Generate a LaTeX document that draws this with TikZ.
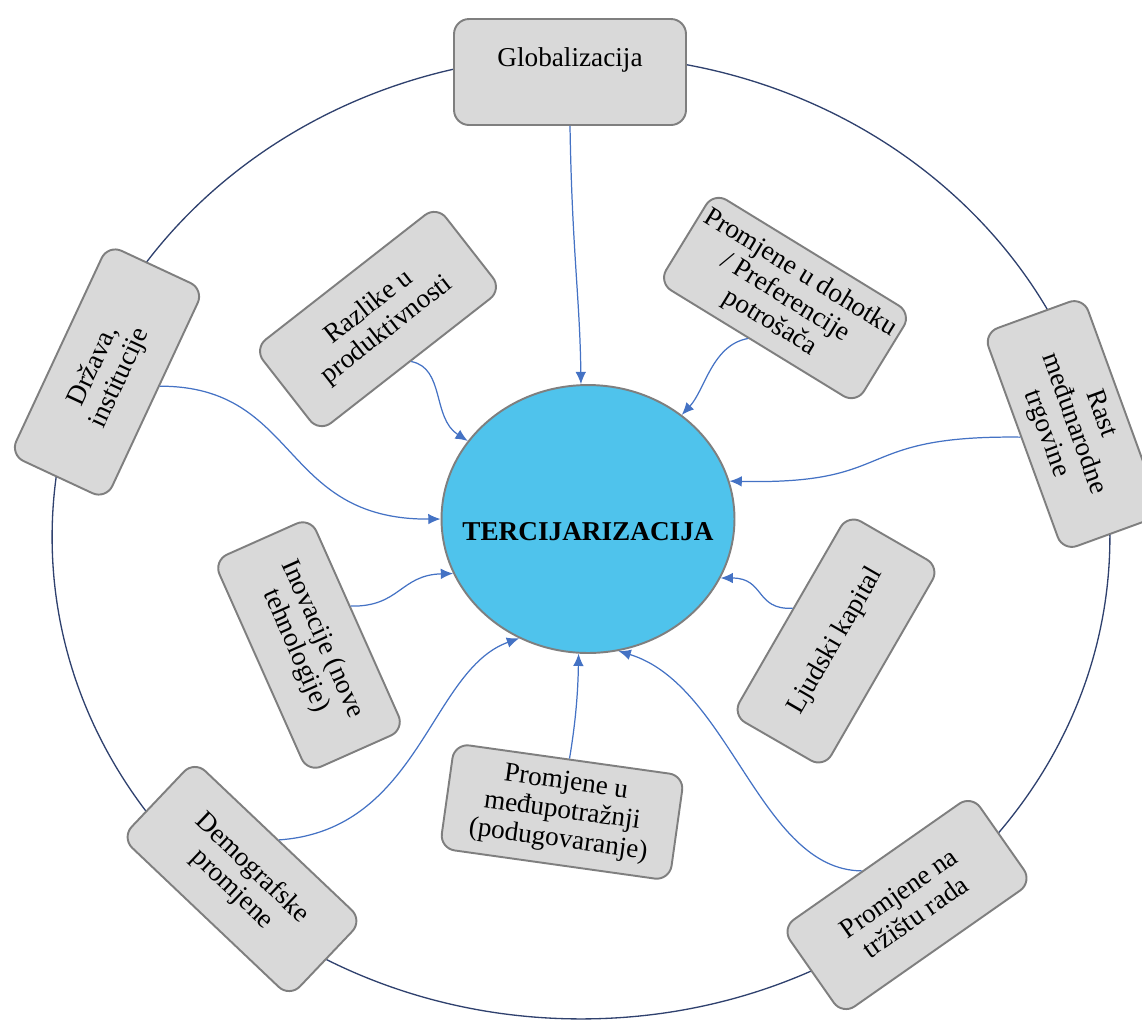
\documentclass[tikz,border=0pt]{standalone}
\usepackage{fontspec}
\setmainfont{Liberation Serif}
\usepackage{tikz}
\usetikzlibrary{arrows.meta,shapes.geometric}
\definecolor{boxgray}{HTML}{D9D9D9}
\definecolor{edgegray}{HTML}{7F7F7F}
\definecolor{coreblue}{RGB}{79,195,236}
\definecolor{ringblue}{RGB}{47,65,110}
\definecolor{linkblue}{RGB}{68,114,196}
\tikzset{
  factor/.style = {draw=edgegray, line width=1.1pt, fill=boxgray, rectangle,
    rounded corners=0.3cm, align=center, minimum width=4.64cm,
    minimum height=2.12cm, inner sep=2pt, font=\fontsize{15.5}{16.5}\selectfont},
  core/.style   = {draw=edgegray, line width=1.1pt, fill=coreblue, ellipse,
    minimum width=5.86cm, minimum height=5.36cm, inner xsep=-15pt,
    inner ysep=0pt, font=\fontsize{15.5}{17}\selectfont\bfseries},
  ring/.style   = {draw=ringblue, line width=0.75pt},
  link/.style   = {->, draw=linkblue, line width=0.7pt}
}

\begin{document}
\begin{tikzpicture}[x=0.02cm, y=-0.02cm, >={Latex[length=7pt,width=6pt]}]
\clip (0,0) rectangle (1142,1019);

% outer ring, drawn first so the boxes sit on it
\draw[ring] (581,537) ellipse [x radius=10.58cm, y radius=9.64cm];

% the centre
\node[core, text height=25pt] (terc) at (588,519) {TERCIJARIZACIJA};

% factors round the centre
\node[factor, text depth=17.5pt] (glob) at (570,72) {Globalizacija};
\node[factor, rotate=38]    (razlike) at (378,319) {Razlike u\\produktivnosti};
\node[factor, rotate=-31.5] (dohotku) at (785,298) {Promjene u dohotku\\/ Preferencije\\potrošača};
\node[factor, rotate=-70]   (rast)    at (1073,424) {Rast\\međunarodne\\trgovine};
\node[factor, rotate=60]    (ljudski) at (836,641) {Ljudski kapital};
\node[factor, rotate=35]    (trziste) at (907,905) {Promjene na\\tržištu rada};
\node[factor, rotate=-8]    (medju)   at (562,812) {Promjene u\\međupotražnji\\(podugovaranje)};
\node[factor, rotate=-43.5] (demogr)  at (242,879) {Demografske\\promjene};
\node[factor, rotate=-66]   (inov)    at (309,645) {Inovacije (nove\\tehnologije)};
\node[factor, rotate=65]    (drzava)  at (107,372) {Država,\\institucije};

% curved links from every factor into the centre
\foreach \from/\to/\ax/\ay/\bx/\by in {
  glob.south/93/572/250/580/300,
  razlike.south/147/445/368/432/418,
  dohotku.-101/48/712/345/705/390,
  rast.-96/15/850/435/900/485,
  ljudski.83/-24/755/610/765/578,
  trziste.108/-77/760/870/730/685,
  medju.north/-94/576/720/578/690,
  demogr.north/-120/420/830/430/670,
  inov.109/202/400/607/400/575,
  drzava.-80/180/300/386/280/520}
  \draw[link] (\from) .. controls (\ax,\ay) and (\bx,\by) .. (terc.\to);
\end{tikzpicture}
\end{document}
